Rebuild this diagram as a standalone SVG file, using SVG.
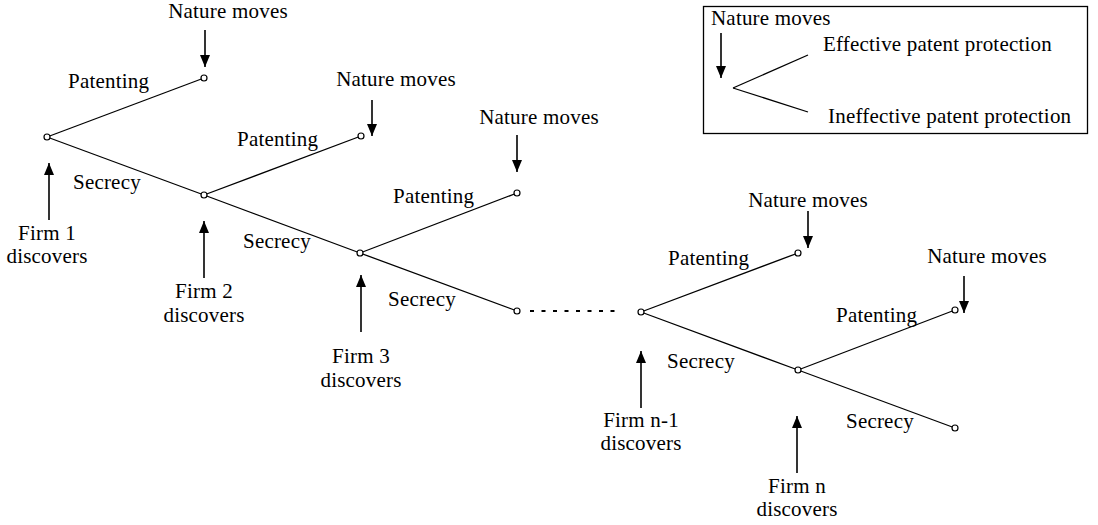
<svg xmlns="http://www.w3.org/2000/svg" width="1098" height="525" viewBox="0 0 1098 525">
<defs>
<marker id="ah" markerUnits="userSpaceOnUse" markerWidth="12" markerHeight="10" viewBox="0 0 12 10" refX="12" refY="5" orient="auto">
<path d="M0,0 L12,5 L0,10 Z" fill="#000"/>
</marker>
</defs>
<style>
text{font-family:"Liberation Serif","Times New Roman",serif;font-size:21px;fill:#000;letter-spacing:0.2px}
.c{text-anchor:middle}
.e{stroke:#000;stroke-width:1.3;fill:none}
.a{stroke:#000;stroke-width:1.6;fill:none;marker-end:url(#ah)}
.n{fill:#fff;stroke:#000;stroke-width:1.2}
</style>
<rect width="1098" height="525" fill="#fff"/>
<g id="connectors">
<line class="e" x1="47" y1="137" x2="204" y2="78"/>
<line class="e" x1="47" y1="137" x2="204" y2="195"/>
<line class="e" x1="204" y1="195" x2="361" y2="136"/>
<line class="e" x1="204" y1="195" x2="360" y2="253"/>
<line class="e" x1="360" y1="253" x2="517" y2="193"/>
<line class="e" x1="360" y1="253" x2="517" y2="311"/>
<line x1="530" y1="311" x2="620" y2="311" stroke="#000" stroke-width="2" stroke-dasharray="4 7.5"/>
<line class="e" x1="641" y1="312" x2="798" y2="253"/>
<line class="e" x1="641" y1="312" x2="798" y2="370"/>
<line class="e" x1="798" y1="370" x2="955" y2="310"/>
<line class="e" x1="798" y1="370" x2="955" y2="428"/>
<line class="a" x1="205" y1="30" x2="205" y2="67"/>
<line class="a" x1="372" y1="100" x2="372" y2="136"/>
<line class="a" x1="517" y1="135" x2="517" y2="172"/>
<line class="a" x1="808" y1="211" x2="808" y2="248"/>
<line class="a" x1="964" y1="276" x2="964" y2="313"/>
<line class="a" x1="49" y1="220" x2="49" y2="163"/>
<line class="a" x1="204" y1="278" x2="204" y2="221"/>
<line class="a" x1="361" y1="332" x2="361" y2="275"/>
<line class="a" x1="641" y1="408" x2="641" y2="351"/>
<line class="a" x1="797" y1="473" x2="797" y2="416"/>
</g>
<g id="node-firm1"><circle class="n" cx="47" cy="137" r="3"/><text class="c" x="47" y="240">Firm 1</text><text class="c" x="47" y="263">discovers</text></g>
<g id="node-firm2"><circle class="n" cx="204" cy="195" r="3"/><text class="c" x="204" y="298">Firm 2</text><text class="c" x="204" y="322">discovers</text></g>
<g id="node-firm3"><circle class="n" cx="360" cy="253" r="3"/><text class="c" x="361" y="363">Firm 3</text><text class="c" x="361" y="387">discovers</text></g>
<g id="node-dots"><circle class="n" cx="517" cy="311" r="3"/></g>
<g id="node-firmn1"><circle class="n" cx="641" cy="312" r="3"/><text class="c" x="641" y="427">Firm n-1</text><text class="c" x="641" y="450">discovers</text></g>
<g id="node-firmn"><circle class="n" cx="798" cy="370" r="3"/><text class="c" x="797" y="493">Firm n</text><text class="c" x="797" y="516">discovers</text></g>
<g id="node-nature1"><circle class="n" cx="204" cy="78" r="3"/><text class="c" x="228" y="18">Nature moves</text></g>
<g id="node-nature2"><circle class="n" cx="361" cy="136" r="3"/><text class="c" x="396" y="86">Nature moves</text></g>
<g id="node-nature3"><circle class="n" cx="517" cy="193" r="3"/><text class="c" x="539" y="124">Nature moves</text></g>
<g id="node-nature4"><circle class="n" cx="798" cy="253" r="3"/><text class="c" x="808" y="207">Nature moves</text></g>
<g id="node-nature5"><circle class="n" cx="955" cy="310" r="3"/><text class="c" x="987" y="263">Nature moves</text></g>
<g id="node-end"><circle class="n" cx="955" cy="428" r="3"/></g>
<g id="labels">
<text x="68" y="88">Patenting</text>
<text x="73" y="189">Secrecy</text>
<text x="237" y="146">Patenting</text>
<text x="243" y="248">Secrecy</text>
<text x="393" y="203">Patenting</text>
<text x="388" y="306">Secrecy</text>
<text x="668" y="265">Patenting</text>
<text x="667" y="368">Secrecy</text>
<text x="836" y="322">Patenting</text>
<text x="846" y="428">Secrecy</text>
</g>
<g id="legend">
<rect x="703.5" y="6.5" width="384" height="127" fill="none" stroke="#000" stroke-width="1.3"/>
<text x="711" y="25">Nature moves</text>
<line class="a" x1="721" y1="33" x2="721" y2="78"/>
<line class="e" x1="733" y1="88" x2="808" y2="55"/>
<line class="e" x1="733" y1="88" x2="808" y2="112"/>
<text x="823" y="51">Effective patent protection</text>
<text x="828" y="123">Ineffective patent protection</text>
</g>
</svg>
